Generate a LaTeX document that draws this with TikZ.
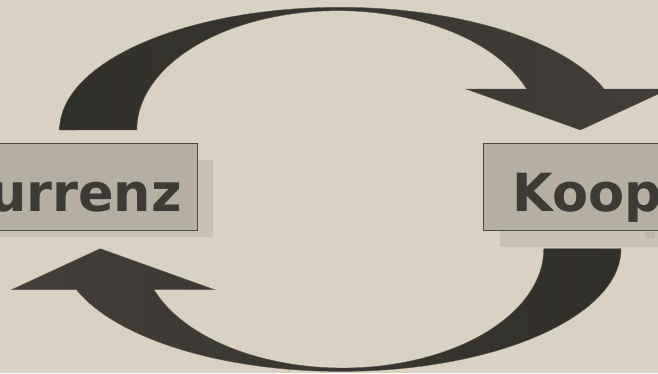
\documentclass[tikz,border=0pt]{standalone}
\usepackage{fontspec}
\setmainfont{DejaVu Sans}
\definecolor{bgcol}{HTML}{D9D2C3}
\definecolor{boxfill}{HTML}{B4AEA3}
\definecolor{boxline}{HTML}{4B4842}
\definecolor{shadowfill}{HTML}{C8C1B4}
\definecolor{textcol}{HTML}{3D3B36}
\definecolor{arrowdark}{HTML}{312F2A}
\definecolor{arrowlight}{HTML}{423F3A}
\definecolor{edgecol}{HTML}{5A5750}
\definecolor{markcol}{HTML}{BCB5A9}
\begin{document}
\begin{tikzpicture}[x=1pt,y=1pt,
  boxstyle/.style={draw=boxline, line width=1.3pt, fill=boxfill, inner sep=0pt},
  shadowstyle/.style={fill=shadowfill},
  labelstyle/.style={font=\fontsize{52.5}{60}\selectfont\bfseries, text=textcol, inner sep=0pt},
  arrowshape/.style={draw=edgecol, line width=0.4pt}]
\useasboundingbox (0,0) rectangle (658,373);
\fill[bgcol] (0,0) rectangle (658,373);
\clip (0,0) rectangle (658,373);
% shadows
\fill[shadowfill] (-240,135.7) rectangle (212.7,213);
\fill[shadowfill] (500,126.3) rectangle (920,213);
\fill[markcol] (646,135) rectangle (655,141);
% boxes
\node[boxstyle, minimum width=427pt, minimum height=87.4pt] (konk) at (-16.2,186) {};
\node[boxstyle, minimum width=427pt, minimum height=87.4pt] (koop) at (696.8,186) {};
% labels
\node[labelstyle, anchor=base east] (konktext) at (182,162) {Konkurrenz};
\node[labelstyle, anchor=base west] (kooptext) at (512,162) {Kooperation};
% top arrow: Konkurrenz -> Kooperation
\shade[arrowshape, left color=arrowdark, right color=arrowlight]
  (59.6,243) arc[start angle=180, end angle=19.5, x radius=280.3pt, y radius=122.7pt]
  -- (669,284) -- (580.4,243) -- (466,284) -- (526.6,284)
  arc[start angle=20.1, end angle=180, x radius=201pt, y radius=119.3pt] -- cycle;
% bottom arrow: Kooperation -> Konkurrenz
\shade[arrowshape, left color=arrowlight, right color=arrowdark]
  (621,124.3) arc[start angle=360, end angle=199.5, x radius=280.3pt, y radius=122.7pt]
  -- (11.6,83.3) -- (100.2,124.3) -- (214.6,83.3) -- (154,83.3)
  arc[start angle=200.1, end angle=360, x radius=201pt, y radius=119.3pt] -- cycle;
\end{tikzpicture}
\end{document}
